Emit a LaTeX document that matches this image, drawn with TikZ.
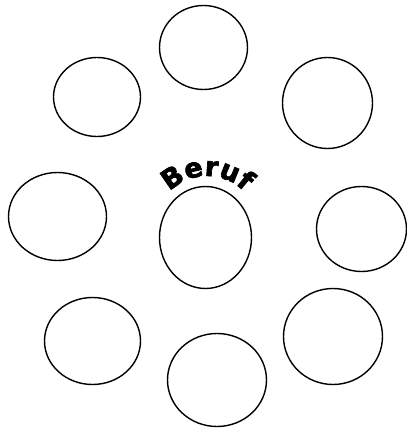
\documentclass[tikz,border=0pt]{standalone}
\usepackage{fontspec}
\newfontfamily\bannerfont[FakeBold=2.5]{DejaVu Sans Bold}
\usetikzlibrary{shapes.geometric,decorations.text}

\begin{document}
\begin{tikzpicture}[x=1pt,y=1pt,
    bubble/.style={draw, ellipse, line width=1.4pt, inner sep=0pt}]
  \useasboundingbox (0,0) rectangle (407,432);

  % ring of empty bubbles
  \foreach \name/\x/\y/\w/\h in {top/203.5/384.5/88/84, upleft/97/335/87/79,
      upright/327.5/329/90/91, left/57.5/215.5/98/88, right/361.5/203/90/85,
      lowleft/92.5/91/96/87, bottom/217/52/99/93, lowright/333/95.5/99/96}{
    \node[bubble, minimum width=\w, minimum height=\h] (\name) at (\x,\y) {};
  }

  % middle bubble
  \node[bubble, minimum width=92, minimum height=102] (mid) at (205.5,194.5) {};

  % arched title
  \coordinate (arcc) at (207,204);
  \path[decorate, decoration={text along path, text align=center,
      text={|\bannerfont\fontsize{27}{27}\selectfont|Beruf}}]
    ([shift={(145:52)}]arcc) arc[start angle=145, end angle=35, radius=52];
\end{tikzpicture}
\end{document}
